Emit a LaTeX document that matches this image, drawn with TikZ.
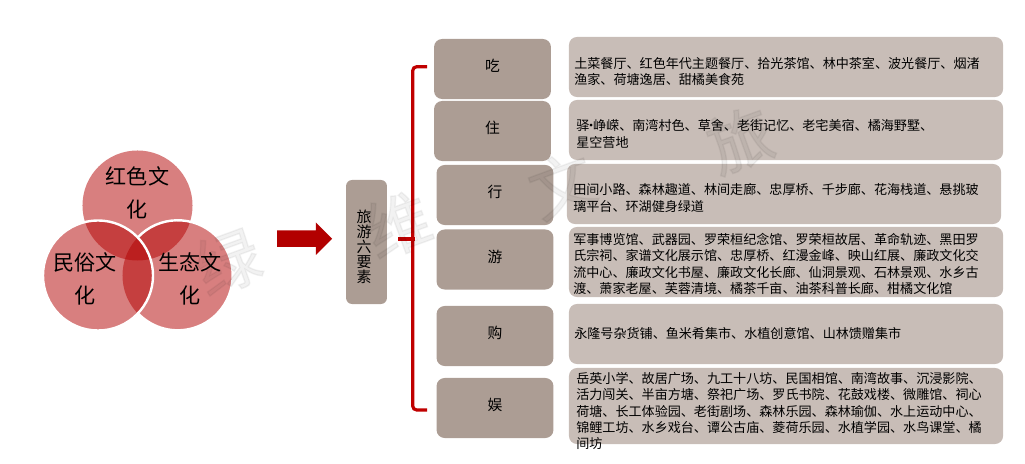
\documentclass[tikz,border=0pt]{standalone}
\usepackage{fontspec}
\setmainfont{Noto Sans CJK SC}
\usetikzlibrary{shapes.arrows}
\definecolor{leafbox}{HTML}{AC9D94}
\definecolor{detailbox}{HTML}{C8BDB7}
\definecolor{deepred}{HTML}{B20000}
\definecolor{bracered}{HTML}{C00000}
\newcommand{\hollow}[1]{\special{pdf:code q 2 Tr 1.0 w 0 0 0 RG 0 0 0 rg}#1\special{pdf:code Q}}
\tikzset{
    culturedisc/.style={circle,fill=deepred,fill opacity=0.5,minimum size=2.75cm,inner sep=0pt,outer sep=0pt},
    culturetext/.style={font=\fontsize{15}{23}\selectfont,align=center,inner sep=0pt},
    discedge/.style={draw=white,line width=0.06cm},
    leaf/.style={fill=leafbox,rounded corners=0.2cm,minimum width=2.92cm,minimum height=1.5cm,inner sep=0pt,font=\fontsize{10.5}{12}\selectfont,text depth=5pt},
    detail/.style={fill=detailbox,rounded corners=0.2cm,minimum width=10.85cm,inner sep=0pt},
    detailtext/.style={anchor=west,align=left,inner sep=0pt,font=\fontsize{9.3}{11.6}\selectfont},
    stamp/.style={font=\fontsize{46}{46}\selectfont,rotate=20,inner sep=0pt,text opacity=0.05},
}
\begin{document}
\begin{tikzpicture}[x=0.025cm,y=-0.025cm]
    \useasboundingbox (0,0) rectangle (1025,464);

    % Three discs
    \node [culturedisc] (reddisc) at (137.5,205.5) {};
    \node [culturedisc] (ecodisc) at (177.5,275.5) {};
    \node [culturedisc] (folkdisc) at (98,275.5) {};
    \draw [discedge] (ecodisc.136.3) arc [start angle=136.3,end angle=-136.3,radius=1.375cm];
    \draw [discedge] (folkdisc.0) arc [start angle=0,end angle=360,radius=1.375cm];
    \node [culturetext] (redlabel) at (137.5,193) {红色文\\化};
    \node [culturetext] (folklabel) at (85,279) {民俗文\\化};
    \node [culturetext] (ecolabel) at (190,279) {生态文\\化};

    % Block arrow
    \node [single arrow,fill=deepred,minimum height=1.375cm,minimum width=0.8cm,single arrow head extend=0.2cm,single arrow head indent=0pt,inner xsep=0pt,inner ysep=0.2cm] (flowarrow) at (300.5,238.7) {};

    % Root box
    \node [fill=leafbox,rounded corners=0.15cm,minimum width=1.02cm,minimum height=3.1cm,inner sep=0pt] (sixroot) at (366.5,242) {};
    \node [inner sep=0pt,align=center,font=\fontsize{10.6}{10.6}\selectfont] (sixlabel) at (364,246.5) {旅\\游\\六\\要\\素};

    % Leaf boxes
    \node [leaf] (eatbox) at (492.5,69) {吃};
    \node [leaf] (staybox) at (492.5,131) {住};
    \node [leaf] (gobox) at (495,195) {行};
    \node [leaf] (tourbox) at (495,259.5) {游};
    \node [leaf] (shopbox) at (495,336) {购};
    \node [leaf] (funbox) at (495,408) {娱};

    % Bracket
    \coordinate (bracetop) at (427,66.7);
    \coordinate (bracebot) at (427,410);
    \coordinate (bracestem) at (398,239);
    \coordinate (bracejoin) at (415,239);
    \draw [bracered,line width=0.08cm,rounded corners=0.1cm] (bracetop) -- (412.7,66.7) -- (412.7,410) -- (bracebot);
    \draw [bracered,line width=0.08cm] (bracestem) -- (bracejoin);

    % Detail boxes
    \node [detail,minimum height=1.5cm] (eatdetail) at (786,67) {};
    \node [detail,minimum height=1.5cm] (staydetail) at (786,130) {};
    \node [detail,minimum height=1.5cm] (godetail) at (784,194) {};
    \node [detail,minimum height=1.75cm] (tourdetail) at (786,262) {};
    \node [detail,minimum height=1.5cm] (shopdetail) at (786,334) {};
    \node [detail,minimum height=1.9cm] (fundetail) at (786,406) {};

    \node [detailtext] (eattext) at (574,71.5) {土菜餐厅、红色年代主题餐厅、拾光茶馆、林中茶室、波光餐厅、烟渚\\渔家、荷塘逸居、甜橘美食苑};
    \node [detailtext] (staytext) at (576,134) {驿\kern-3.3pt·\kern-3.3pt峥嵘、南湾村色、草舍、老街记忆、老宅美宿、橘海野墅、\\星空营地};
    \node [detailtext] (gotext) at (573,198) {田间小路、森林趣道、林间走廊、忠厚桥、千步廊、花海栈道、悬挑玻\\璃平台、环湖健身绿道};
    \node [detailtext] (tourtext) at (573,264) {军事博览馆、武器园、罗荣桓纪念馆、罗荣桓故居、革命轨迹、黑田罗\\氏宗祠、家谱文化展示馆、忠厚桥、红漫金峰、映山红展、廉政文化交\\流中心、廉政文化书屋、廉政文化长廊、仙洞景观、石林景观、水乡古\\渡、萧家老屋、芙蓉清境、橘茶千亩、油茶科普长廊、柑橘文化馆};
    \node [detailtext] (shoptext) at (574,333) {永隆号杂货铺、鱼米肴集市、水植创意馆、山林馈赠集市};
    \node [detailtext] (funtext) at (576,411) {岳英小学、故居广场、九工十八坊、民国相馆、南湾故事、沉浸影院、\\活力闯关、半亩方塘、祭祀广场、罗氏书院、花鼓戏楼、微雕馆、祠心\\荷塘、长工体验园、老街剧场、森林乐园、森林瑜伽、水上运动中心、\\锦鲤工坊、水乡戏台、谭公古庙、菱荷乐园、水植学园、水鸟课堂、橘\\间坊};

    % Stamp letters
    \begin{scope}[draw opacity=0.14]
    \node [stamp] (stampa) at (228,262) {\hollow{绿}};
    \node [stamp] (stampb) at (398,225) {\hollow{维}};
    \node [stamp] (stampc) at (562,185) {\hollow{文}};
    \node [stamp] (stampd) at (740,140) {\hollow{旅}};
    \end{scope}
\end{tikzpicture}
\end{document}
